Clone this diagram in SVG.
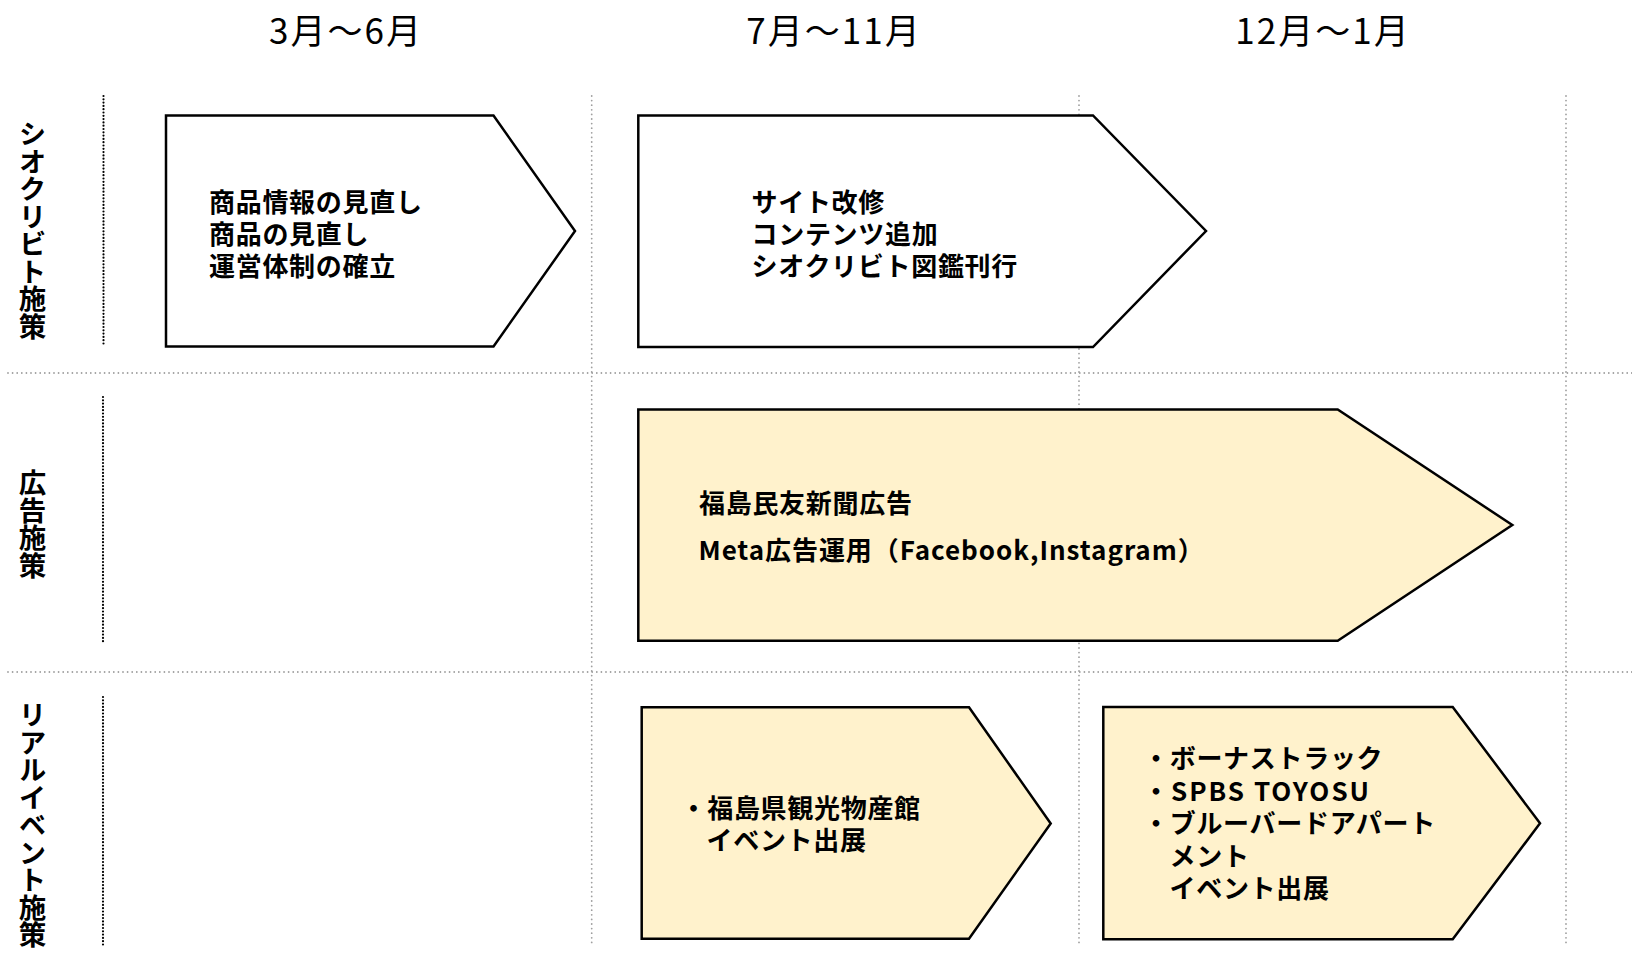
<svg xmlns="http://www.w3.org/2000/svg" width="1632" height="954" viewBox="0 0 1632 954">
<style>
  .bg { fill: #ffffff; }
  .grid { stroke: #9f9f9f; stroke-width: 1.8; stroke-dasharray: 0 4.6; stroke-linecap: round; fill: none; }
  .lane { stroke: #000000; stroke-width: 2.2; stroke-dasharray: 0 3.3; stroke-linecap: round; fill: none; }
  .box { stroke: #000000; stroke-width: 2.5; stroke-linejoin: miter; }
  .white { fill: #ffffff; }
  .gold { fill: #fff2cc; }
  .head { font-family: "Noto Sans CJK JP", "Noto Sans CJK SC", sans-serif; font-size: 35px; font-weight: 400; fill: #000; text-anchor: middle; letter-spacing: 2px; }
  .lbl { font-family: "Noto Sans CJK JP", "Noto Sans CJK SC", sans-serif; font-size: 27.5px; font-weight: 700; fill: #000; writing-mode: vertical-rl; text-anchor: middle; }
  .txt { font-family: "Noto Sans CJK JP", "Noto Sans CJK SC", sans-serif; font-size: 26px; font-weight: 700; fill: #000; letter-spacing: 0.7px; }
</style>
<rect class="bg" x="0" y="0" width="1632" height="954"/>

<g id="grid">
  <line class="grid" x1="591.7" y1="96" x2="591.7" y2="945"/>
  <line class="grid" x1="1079" y1="96" x2="1079" y2="945"/>
  <line class="grid" x1="1566" y1="96" x2="1566" y2="945"/>
  <line class="grid" x1="8" y1="373" x2="1632" y2="373"/>
  <line class="grid" x1="8" y1="672" x2="1632" y2="672"/>
  <line class="lane" x1="103.5" y1="96" x2="103.5" y2="345"/>
  <line class="lane" x1="103" y1="397" x2="103" y2="644"/>
  <line class="lane" x1="103" y1="697" x2="103" y2="945"/>
</g>

<g id="headers">
  <text class="head" x="346" y="44">3月～6月</text>
  <text class="head" x="834" y="44">7月～11月</text>
  <text class="head" x="1323" y="44">12月～1月</text>
</g>

<g id="lane-labels">
  <text class="lbl" x="32.5" y="230">シオクリビト施策</text>
  <text class="lbl" x="32.5" y="524">広告施策</text>
  <text class="lbl" x="32.5" y="825">リアルイベント施策</text>
</g>

<g id="node-r1-1">
  <polygon class="box white" points="166,115.5 493.5,115.5 575,231 493.5,346.5 166,346.5"/>
  <text class="txt"><tspan x="209" y="211.5">商品情報の見直し</tspan><tspan x="209" y="243.5">商品の見直し</tspan><tspan x="209" y="275.5">運営体制の確立</tspan></text>
</g>

<g id="node-r1-2">
  <polygon class="box white" points="638.3,115.5 1093,115.5 1206,231 1093,347 638.3,347"/>
  <text class="txt"><tspan x="751.5" y="211.5">サイト改修</tspan><tspan x="751.5" y="243.5">コンテンツ追加</tspan><tspan x="751.5" y="275.5">シオクリビト図鑑刊行</tspan></text>
</g>

<g id="node-r2">
  <polygon class="box gold" points="638.3,409.5 1337.7,409.5 1512.3,525 1337.7,640.7 638.3,640.7"/>
  <text class="txt"><tspan x="699" y="512.5">福島民友新聞広告</tspan><tspan x="698.5" y="559.5" style="letter-spacing:0.95px">Meta広告運用（Facebook,Instagram）</tspan></text>
</g>

<g id="node-r3-1">
  <polygon class="box gold" points="641.7,707.3 969,707.3 1050.7,823.5 969,938.7 641.7,938.7"/>
  <text class="txt"><tspan x="680.5" y="817.5">・福島県観光物産館</tspan><tspan x="706.5" y="849.5">イベント出展</tspan></text>
</g>

<g id="node-r3-2">
  <polygon class="box gold" points="1103.3,707 1452.7,707 1540,823.3 1452.7,939.3 1103.3,939.3"/>
  <text class="txt"><tspan x="1143" y="768">・ボーナストラック</tspan><tspan x="1143" y="800.5" style="letter-spacing:2px">・SPBS TOYOSU</tspan><tspan x="1143" y="833">・ブルーバードアパート</tspan><tspan x="1169.5" y="865.5">メント</tspan><tspan x="1169.5" y="898">イベント出展</tspan></text>
</g>

<g id="connectors"></g>
</svg>
